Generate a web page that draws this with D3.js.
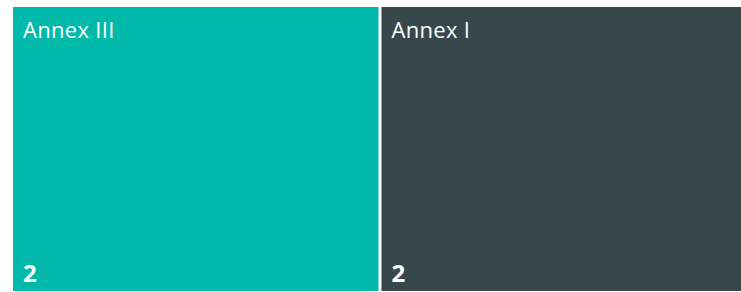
<!DOCTYPE html>
<html>
<head>
<meta charset="utf-8">
<script src="https://cdn.jsdelivr.net/npm/d3@7"></script>
<style>
  body { margin: 0; background: #fff; overflow: hidden; }
  svg text { font-family: "Open Sans", "Noto Sans", sans-serif; fill: #fff; }
</style>
</head>
<body>
<div id="chart"></div>
<script>
// Data
var names = ["Annex III", "Annex I"];
var counts = [2, 2];
var colors = ["#00b9aa", "#37474b"];

var svgWidth = 741;
var svgHeight = 292;

// right side of the treemap runs past the window edge
var margin = { top: 7, right: -6, bottom: 1, left: 13 };
var width = svgWidth - margin.left - margin.right;
var height = svgHeight - margin.top - margin.bottom;

var svg = d3.select("#chart")
  .append("svg")
  .attr("width", svgWidth)
  .attr("height", svgHeight);

var chartGroup = svg.append("g")
  .attr("transform", `translate(${margin.left}, ${margin.top})`);

var root = d3.hierarchy({
  children: names.map(function(n, i) { return { name: n, value: counts[i], color: colors[i] }; })
}).sum(d => d.value || 0);

d3.treemap()
  .size([width, height])
  .paddingInner(3)
  .tile(d3.treemapSliceDice)(root);

var cell = chartGroup.selectAll("g.cell")
  .data(root.leaves())
  .enter()
  .append("g")
  .attr("class", "cell")
  .attr("transform", d => `translate(${d.x0}, ${d.y0})`);

cell.append("rect")
  .attr("width", d => d.x1 - d.x0)
  .attr("height", d => d.y1 - d.y0)
  .attr("fill", d => d.data.color);

cell.append("text")
  .attr("x", 10)
  .attr("y", 31)
  .style("font-size", "22px")
  .style("letter-spacing", "0.3px")
  .text(d => d.data.name);

cell.append("text")
  .attr("x", 10)
  .attr("y", d => d.y1 - d.y0 - 9)
  .style("font-size", "24px")
  .style("font-weight", "bold")
  .text(d => d.data.value);
</script>
</body>
</html>
